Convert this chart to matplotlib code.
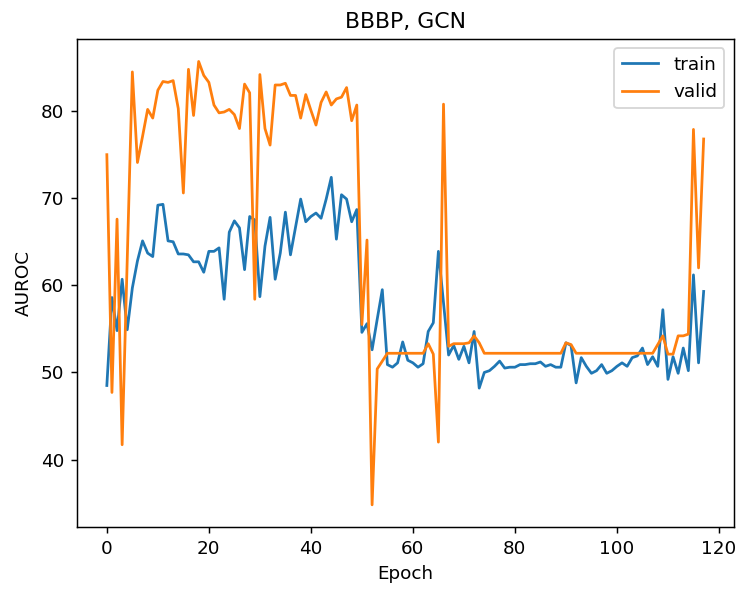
import matplotlib
matplotlib.use("Agg")
import matplotlib.pyplot as plt

train = [48.5, 58.6, 54.8, 60.7, 54.9, 59.7, 62.8, 65.1, 63.7, 63.3,
         69.2, 69.3, 65.1, 65.0, 63.6, 63.6, 63.5, 62.7, 62.7, 61.5,
         63.9, 63.9, 64.3, 58.4, 66.1, 67.4, 66.6, 61.8, 67.9, 67.5,
         58.7, 64.5, 67.8, 60.7, 63.7, 68.4, 63.5, 66.7, 69.9, 67.3,
         67.9, 68.3, 67.7, 69.9, 72.4, 65.3, 70.4, 69.9, 67.3, 68.7,
         54.6, 55.6, 52.6, 56.1, 59.5, 50.9, 50.6, 51.1, 53.5, 51.4,
         51.1, 50.6, 51.0, 54.7, 55.7, 63.9, 58.0, 52.0, 53.1, 51.5,
         53.0, 51.1, 54.7, 48.2, 50.0, 50.2, 50.7, 51.3, 50.5, 50.6,
         50.6, 50.9, 50.9, 51.0, 51.0, 51.2, 50.7, 50.9, 50.6, 50.6,
         53.4, 53.1, 48.8, 51.7, 50.7, 49.9, 50.2, 50.9, 49.9, 50.2,
         50.7, 51.1, 50.7, 51.7, 51.9, 52.8, 50.9, 51.8, 50.7, 57.2,
         49.2, 51.8, 49.9, 52.8, 50.2, 61.2, 51.1, 59.3]

valid = [75.0, 47.7, 67.6, 41.7, 63.0, 84.5, 74.1, 77.1, 80.2, 79.2,
         82.4, 83.4, 83.3, 83.5, 80.3, 70.6, 84.8, 79.5, 85.7, 84.1,
         83.3, 80.7, 79.8, 79.9, 80.2, 79.6, 78.0, 83.1, 82.1, 58.4,
         84.2, 78.0, 76.1, 83.0, 83.0, 83.2, 81.8, 81.8, 79.2, 81.9,
         80.1, 78.4, 81.0, 82.2, 80.7, 81.4, 81.6, 82.7, 78.9, 80.7,
         55.5, 65.2, 34.8, 50.4, 51.3, 52.2, 52.2, 52.2, 52.2, 52.2,
         52.2, 52.2, 52.2, 53.3, 52.1, 42.0, 80.8, 53.0, 53.3, 53.3,
         53.3, 53.4, 54.2, 53.4, 52.2, 52.2, 52.2, 52.2, 52.2, 52.2,
         52.2, 52.2, 52.2, 52.2, 52.2, 52.2, 52.2, 52.2, 52.2, 52.2,
         53.4, 53.2, 52.2, 52.2, 52.2, 52.2, 52.2, 52.2, 52.2, 52.2,
         52.2, 52.2, 52.2, 52.2, 52.2, 52.2, 52.2, 52.2, 53.2, 54.2,
         52.1, 52.1, 54.2, 54.2, 54.4, 77.9, 62.0, 76.8]

epochs = list(range(len(train)))

DPI = 132
fig = plt.figure(figsize=(737 / DPI, 590 / DPI), dpi=DPI)
ax = fig.add_axes([77 / 737, 1 - 527 / 590, (733.5 - 77) / 737, (527 - 39.3) / 590])
ax.plot(epochs, train, label="train")
ax.plot(epochs, valid, label="valid")
ax.set_title("BBBP, GCN")
ax.set_xlabel("Epoch")
ax.set_ylabel("AUROC")
ax.legend(loc="upper right")
fig.savefig("out.png", dpi=DPI)
